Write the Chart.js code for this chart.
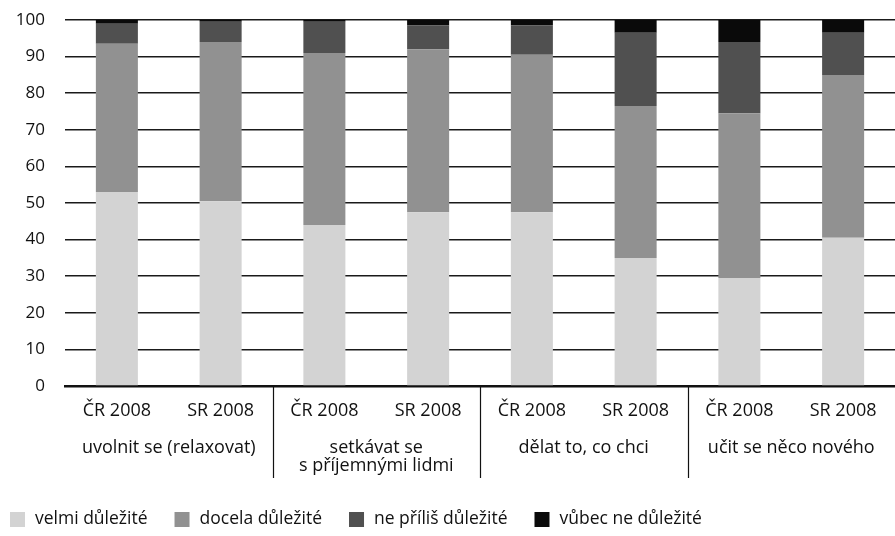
<!DOCTYPE html>
<html>
<head>
<meta charset="utf-8">
<script src="https://cdn.jsdelivr.net/npm/chart.js@4.4.1/dist/chart.umd.min.js"></script>
<style>
  body { margin: 0; background: #fff; }
  canvas { display: block; }
</style>
</head>
<body>
<canvas id="graf" width="895" height="536"></canvas>
<script>
const kategorie = ["ČR 2008", "SR 2008", "ČR 2008", "SR 2008", "ČR 2008", "SR 2008", "ČR 2008", "SR 2008"];
const skupiny = ["uvolnit se (relaxovat)", ["setkávat se", "s příjemnými lidmi"], "dělat to, co chci", "učit se něco nového"];
const yTicks = [0, 10, 20, 30, 40, 50, 60, 70, 80, 90, 100];

const velmi = [53, 50.5, 44, 47.5, 47.5, 35, 29.5, 40.5];
const docela = [40.5, 43.5, 47, 44.5, 43, 41.5, 45, 44.5];
const nePrilis = [5.5, 5.5, 8.5, 6.5, 8, 20, 19.5, 11.5];
const vubec = [1, 0.5, 0.5, 1.5, 1.5, 3.5, 6, 3.5];

const FONT = "'Open Sans', 'DejaVu Sans', sans-serif";

// svisle oddelovace skupin pod osou x
const oddelovace = {
    id: "oddelovace",
    afterDraw(chart) {
        const ctx = chart.ctx;
        const x = chart.scales.x;
        const y0 = chart.chartArea.bottom;
        ctx.save();
        ctx.strokeStyle = "#111";
        ctx.lineWidth = 1.2;
        [1, 3, 5].forEach(i => {
            const px = Math.round((x.getPixelForValue(i) + x.getPixelForValue(i + 1)) / 2) + 0.5;
            ctx.beginPath();
            ctx.moveTo(px, y0);
            ctx.lineTo(px, 478);
            ctx.stroke();
        });
        ctx.restore();
    }
};

// legenda zarovnana vlevo dole
const legenda = {
    id: "legenda",
    afterDraw(chart) {
        const ctx = chart.ctx;
        let x = 10;
        const y = 519;
        ctx.save();
        ctx.font = "17.5px " + FONT;
        ctx.textBaseline = "middle";
        chart.data.datasets.forEach(ds => {
            ctx.fillStyle = ds.backgroundColor;
            ctx.fillRect(x, y - 7, 15, 15);
            x += 25;
            ctx.fillStyle = "#111";
            ctx.fillText(ds.label, x, y);
            x += ctx.measureText(ds.label).width + 27;
        });
        ctx.restore();
    }
};

new Chart(document.getElementById("graf"), {
    type: "bar",
    data: {
        labels: kategorie,
        datasets: [
            { label: "velmi důležité", data: velmi, backgroundColor: "#d3d3d3" },
            { label: "docela důležité", data: docela, backgroundColor: "#919191" },
            { label: "ne příliš důležité", data: nePrilis, backgroundColor: "#505050" },
            { label: "vůbec ne důležité", data: vubec, backgroundColor: "#0a0a0a" }
        ]
    },
    options: {
        responsive: false,
        animation: false,
        devicePixelRatio: 1,
        layout: { padding: { top: 20, right: 0, left: 0, bottom: 50 } },
        datasets: {
            bar: { categoryPercentage: 1, barPercentage: 0.405, borderWidth: 0 }
        },
        plugins: {
            legend: { display: false },
            tooltip: { enabled: false }
        },
        scales: {
            y: {
                stacked: true,
                min: 0,
                max: 100,
                afterBuildTicks: s => { s.ticks = yTicks.map(v => ({ value: v })); },
                afterFit: s => {
                    s.width = 65;
                    s.paddingTop = 0;
                    s.paddingBottom = 0;
                },
                ticks: {
                    padding: 20,
                    color: "#111",
                    font: { family: FONT, size: 17 }
                },
                grid: { color: "#1a1a1a", lineWidth: 1.6, drawTicks: false },
                border: { display: false }
            },
            x: {
                stacked: true,
                afterFit: s => { s.height = 45; },
                ticks: {
                    padding: 14,
                    autoSkip: false,
                    maxRotation: 0,
                    color: "#111",
                    font: { family: FONT, size: 18 }
                },
                grid: { display: false, drawTicks: false },
                border: { display: true, color: "#111", width: 2.5 }
            },
            xg: {
                type: "category",
                position: "bottom",
                labels: skupiny,
                offset: true,
                afterFit: s => { s.height = 55; },
                ticks: {
                    padding: 8,
                    autoSkip: false,
                    maxRotation: 0,
                    color: "#111",
                    font: { family: FONT, size: 18, lineHeight: 1.0 }
                },
                grid: { display: false, drawTicks: false },
                border: { display: false }
            }
        }
    },
    plugins: [oddelovace, legenda]
});
</script>
</body>
</html>
